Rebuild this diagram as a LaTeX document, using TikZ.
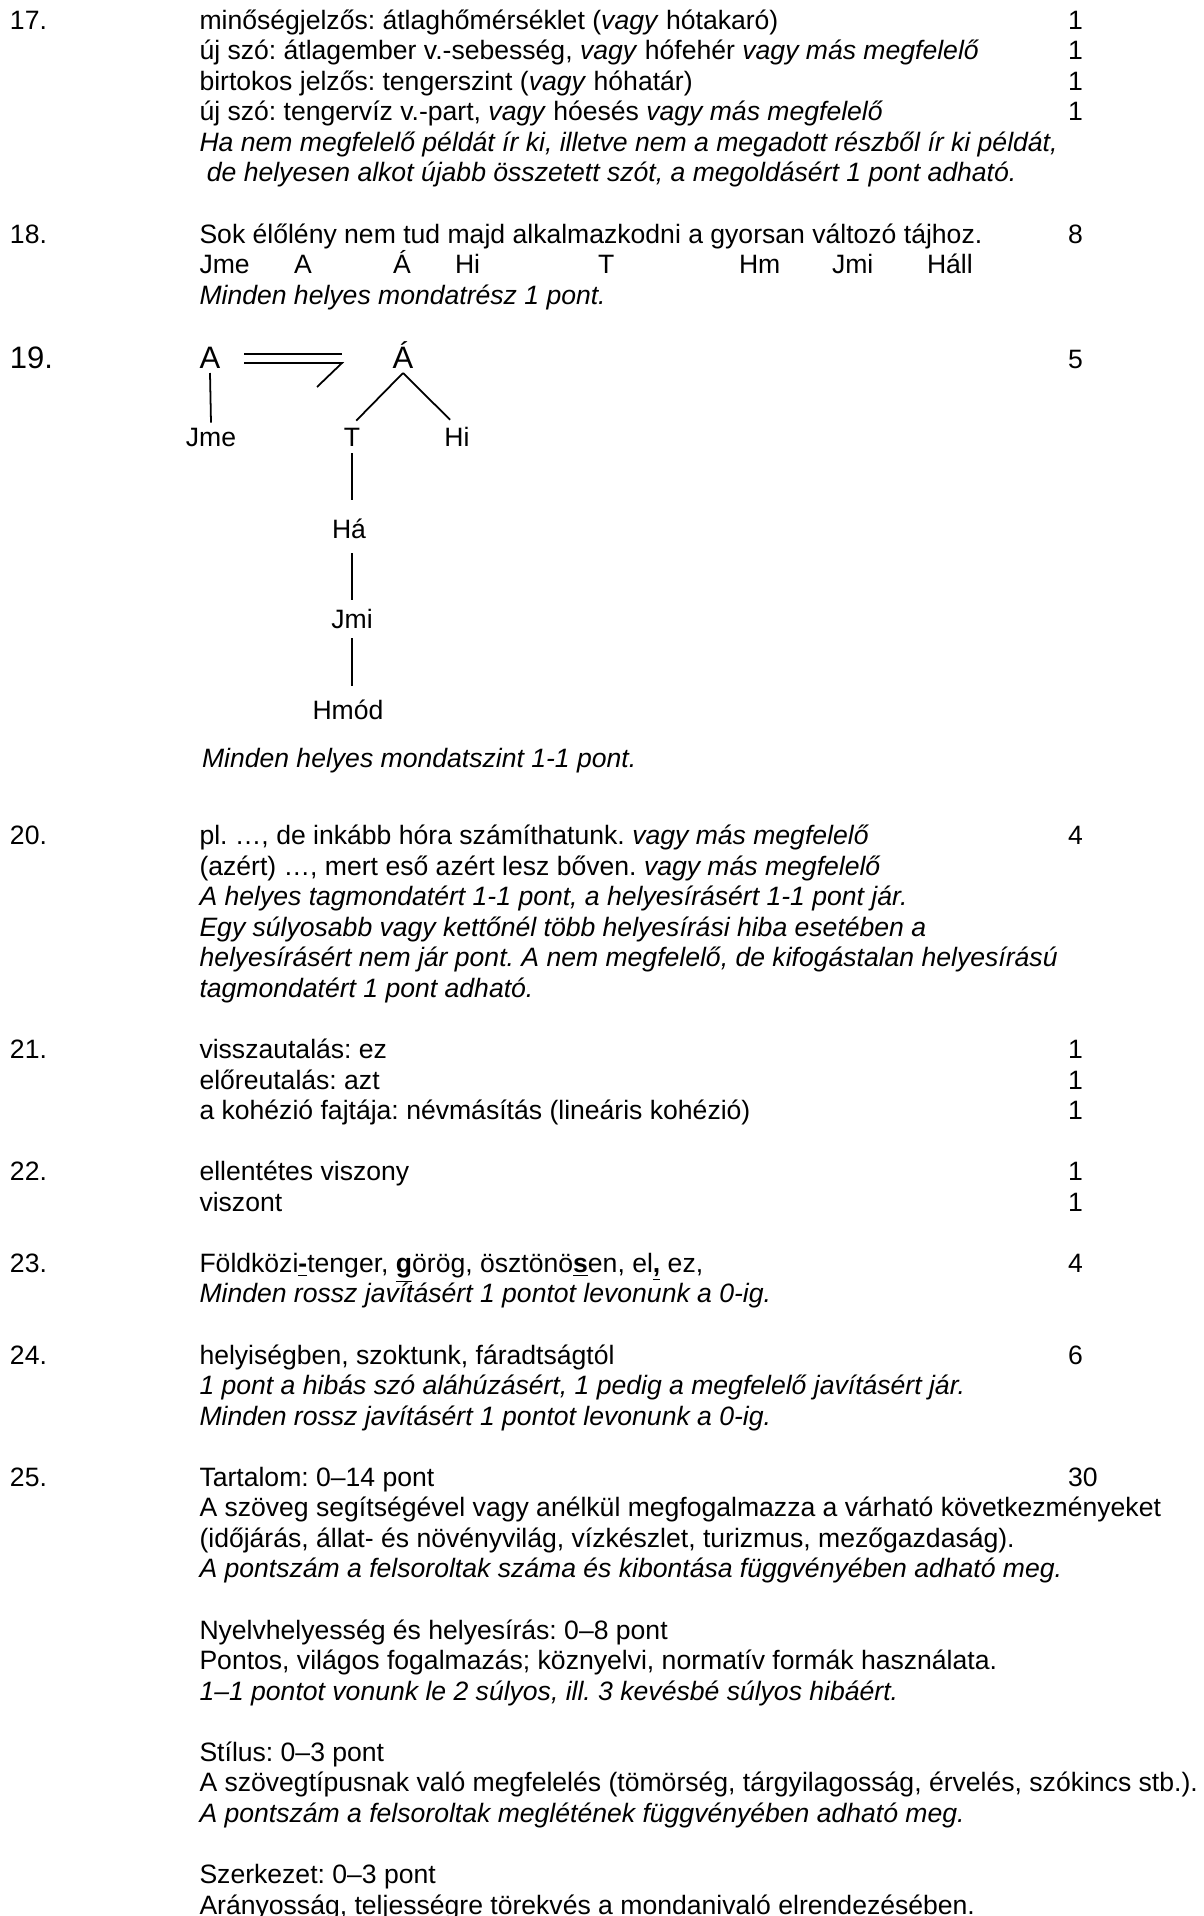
\documentclass[tikz,border=0pt]{standalone}
\usepackage{fontspec}
\setmainfont{Liberation Sans}
\frenchspacing
\begin{document}
\frenchspacing
\begin{tikzpicture}[x=0.4516pt,y=-0.4516pt,
  every node/.style={inner sep=0pt, outer sep=0pt, font=\fontsize{12}{13.8}\selectfont\frenchspacing},
  txt/.style={anchor=base west},
  big/.style={font=\fontsize{14}{16.1}\selectfont},
  lbl/.style={anchor=base, inner sep=2.26pt},
  conn/.style={line width=0.8pt}
]
\useasboundingbox (0,0) rectangle (1204,1916);
% ---------- 17
\node[txt] (n17) at (10,29.1) {17.};
\node[txt] (l17a) at (199.5,29.1) {minőségjelzős: átlaghőmérséklet (\textit{vagy} hótakaró)};
\node[txt] (p17a) at (1068,29.1) {1};
\node[txt] (l17b) at (199.5,59.7) {új szó: átlagember v.-sebesség, \textit{vagy} hófehér \textit{vagy más megfelelő}};
\node[txt] (p17b) at (1068,59.7) {1};
\node[txt] (l17c) at (199.5,90.2) {birtokos jelzős: tengerszint (\textit{vagy} hóhatár)};
\node[txt] (p17c) at (1068,90.2) {1};
\node[txt] (l17d) at (199.5,120.8) {új szó: tengervíz v.-part, \textit{vagy} hóesés \textit{vagy más megfelelő}};
\node[txt] (p17d) at (1068,120.8) {1};
\node[txt] (l17e) at (199.5,151.3) {\textit{Ha nem megfelelő példát ír ki, illetve nem a megadott részből ír ki példát,}};
\node[txt] (l17f) at (199.5,181.9) {\textit{\ de helyesen alkot újabb összetett szót, a megoldásért 1 pont adható.}};
% ---------- 18
\node[txt] (n18) at (10,243.0) {18.};
\node[txt] (l18a) at (199.5,243.0) {Sok élőlény nem tud majd alkalmazkodni a gyorsan változó tájhoz.};
\node[txt] (p18) at (1068,243.0) {8};
\node[txt] (r1) at (199.5,273.6) {Jme};
\node[txt] (r2) at (294,273.6) {A};
\node[txt] (r3) at (393,273.6) {Á};
\node[txt] (r4) at (455,273.6) {Hi};
\node[txt] (r5) at (598,273.6) {T};
\node[txt] (r6) at (739,273.6) {Hm};
\node[txt] (r7) at (832,273.6) {Jmi};
\node[txt] (r8) at (927,273.6) {Háll};
\node[txt] (l18c) at (199.5,304.1) {\textit{Minden helyes mondatrész 1 pont.}};
% ---------- 19
\node[txt,big] (n19) at (10,368) {19.};
\node[txt] (p19) at (1068,368) {5};
\node[lbl,big] (A) at (210,368) {A};
\node[lbl,big] (Aa) at (403,368) {Á};
\node[lbl] (Jme) at (211,446) {Jme};
\node[lbl] (T) at (352,446) {T};
\node[lbl] (Hi) at (457,446) {Hi};
\node[lbl] (Ha) at (349,538) {Há};
\node[lbl] (Jmi) at (352,628) {Jmi};
\node[lbl] (Hmod) at (348,719) {Hmód};
\coordinate (d1) at (244,354);
\coordinate (d2) at (342,354);
\coordinate (d3) at (244,363);
\coordinate (d4) at (342,363);
\coordinate (d5) at (317,387);
\draw[conn] (d1) -- (d2);
\draw[conn] (d3) -- (d4) -- (d5);
\draw[conn] (A.south) -- (Jme.north);
\draw[conn,shorten >=1.3pt] (Aa.south) -- ([xshift=1pt]T.north);
\draw[conn,shorten >=1.3pt] (Aa.south) -- ([xshift=-2.2pt]Hi.north);
\draw[conn,shorten <=1pt,shorten >=5.9pt] (T.south) -- (T.south |- Ha.north);
\draw[conn,shorten <=4.5pt,shorten >=1.8pt] (Jmi.north |- Ha.south) -- (Jmi.north);
\draw[conn,shorten <=2.3pt,shorten >=3.6pt] (Jmi.south) -- (Jmi.south |- Hmod.north);
\node[txt] (l19) at (202,767.5) {\textit{Minden helyes mondatszint 1-1 pont.}};
% ---------- 20
\node[txt] (n20) at (10,844.5) {20.};
\node[txt] (l20a) at (199.5,844.5) {pl. …, de inkább hóra számíthatunk. \textit{vagy más megfelelő}};
\node[txt] (p20) at (1068,844.5) {4};
\node[txt] (l20b) at (199.5,875.1) {(azért) …, mert eső azért lesz bőven. \textit{vagy más megfelelő}};
\node[txt] (l20c) at (199.5,905.6) {\textit{A helyes tagmondatért 1-1 pont, a helyesírásért 1-1 pont jár.}};
\node[txt] (l20d) at (199.5,936.2) {\textit{Egy súlyosabb vagy kettőnél több helyesírási hiba esetében a}};
\node[txt] (l20e) at (199.5,966.7) {\textit{helyesírásért nem jár pont. A nem megfelelő, de kifogástalan helyesírású}};
\node[txt] (l20f) at (199.5,997.3) {\textit{tagmondatért 1 pont adható.}};
% ---------- 21
\node[txt] (n21) at (10,1058.4) {21.};
\node[txt] (l21a) at (199.5,1058.4) {visszautalás: ez};
\node[txt] (p21a) at (1068,1058.4) {1};
\node[txt] (l21b) at (199.5,1089.0) {előreutalás: azt};
\node[txt] (p21b) at (1068,1089.0) {1};
\node[txt] (l21c) at (199.5,1119.5) {a kohézió fajtája: névmásítás (lineáris kohézió)};
\node[txt] (p21c) at (1068,1119.5) {1};
% ---------- 22
\node[txt] (n22) at (10,1180.7) {22.};
\node[txt] (l22a) at (199.5,1180.7) {ellentétes viszony};
\node[txt] (p22a) at (1068,1180.7) {1};
\node[txt] (l22b) at (199.5,1211.2) {viszont};
\node[txt] (p22b) at (1068,1211.2) {1};
% ---------- 23
\node[txt] (n23) at (10,1272.3) {23.};
\node[txt] (l23a) at (199.5,1272.3) {Földközi\underline{\textbf{-}}tenger, \underline{\textbf{g}}örög, ösztönö\underline{\textbf{s}}en, el\underline{\textbf{,}} ez,};
\node[txt] (p23) at (1068,1272.3) {4};
\node[txt] (l23b) at (199.5,1302.9) {\textit{Minden rossz javításért 1 pontot levonunk a 0-ig.}};
% ---------- 24
\node[txt] (n24) at (10,1364.0) {24.};
\node[txt] (l24a) at (199.5,1364.0) {helyiségben, szoktunk, fáradtságtól};
\node[txt] (p24) at (1068,1364.0) {6};
\node[txt] (l24b) at (199.5,1394.6) {\textit{1 pont a hibás szó aláhúzásért, 1 pedig a megfelelő javításért jár.}};
\node[txt] (l24c) at (199.5,1425.1) {\textit{Minden rossz javításért 1 pontot levonunk a 0-ig.}};
% ---------- 25
\node[txt] (n25) at (10,1486.3) {25.};
\node[txt] (l25a) at (199.5,1486.3) {Tartalom: 0–14 pont};
\node[txt] (p25) at (1068,1486.3) {30};
\node[txt] (l25b) at (199.5,1516.8) {A szöveg segítségével vagy anélkül megfogalmazza a várható következményeket};
\node[txt] (l25c) at (199.5,1547.4) {(időjárás, állat- és növényvilág, vízkészlet, turizmus, mezőgazdaság).};
\node[txt] (l25d) at (199.5,1577.9) {\textit{A pontszám a felsoroltak száma és kibontása függvényében adható meg.}};
\node[txt] (l25e) at (199.5,1639.1) {Nyelvhelyesség és helyesírás: 0–8 pont};
\node[txt] (l25f) at (199.5,1669.6) {Pontos, világos fogalmazás; köznyelvi, normatív formák használata.};
\node[txt] (l25g) at (199.5,1700.2) {\textit{1–1 pontot vonunk le 2 súlyos, ill. 3 kevésbé súlyos hibáért.}};
\node[txt] (l25h) at (199.5,1761.3) {Stílus: 0–3 pont};
\node[txt] (l25i) at (199.5,1791.9) {A szövegtípusnak való megfelelés (tömörség, tárgyilagosság, érvelés, szókincs stb.).};
\node[txt] (l25j) at (199.5,1822.4) {\textit{A pontszám a felsoroltak meglétének függvényében adható meg.}};
\node[txt] (l25k) at (199.5,1883.5) {Szerkezet: 0–3 pont};
\node[txt] (l25l) at (199.5,1914.1) {Arányosság, teljességre törekvés a mondanivaló elrendezésében.};
\end{tikzpicture}
\end{document}
